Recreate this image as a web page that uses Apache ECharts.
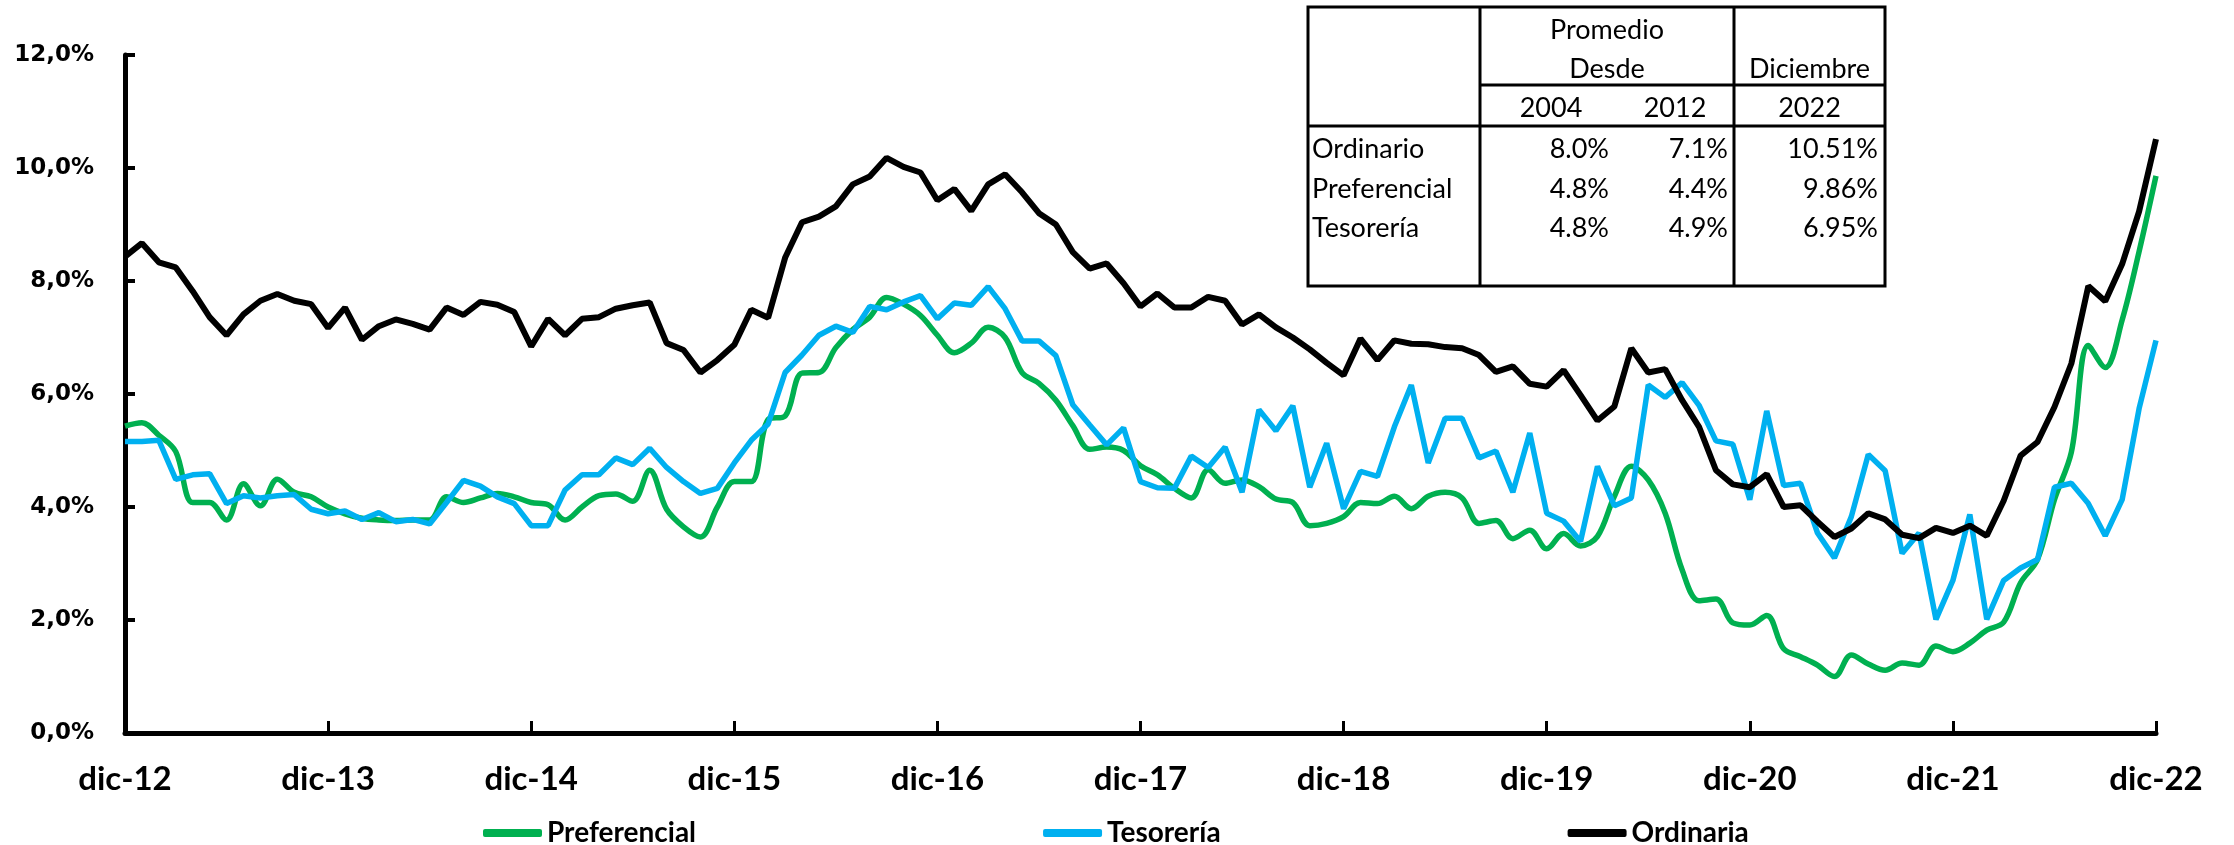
<!DOCTYPE html>
<html>
<head>
<meta charset="utf-8">
<script src="https://cdn.jsdelivr.net/npm/echarts@6/dist/echarts.min.js"></script>
<style>
html,body{margin:0;padding:0;background:#fff;}
#chart{width:2234px;height:845px;}
</style>
</head>
<body>
<div id="chart"></div>
<script>
var categories = [
 'dic-12',
 'ene-13','feb-13','mar-13','abr-13','may-13','jun-13','jul-13','ago-13','sep-13','oct-13','nov-13','dic-13',
 'ene-14','feb-14','mar-14','abr-14','may-14','jun-14','jul-14','ago-14','sep-14','oct-14','nov-14','dic-14',
 'ene-15','feb-15','mar-15','abr-15','may-15','jun-15','jul-15','ago-15','sep-15','oct-15','nov-15','dic-15',
 'ene-16','feb-16','mar-16','abr-16','may-16','jun-16','jul-16','ago-16','sep-16','oct-16','nov-16','dic-16',
 'ene-17','feb-17','mar-17','abr-17','may-17','jun-17','jul-17','ago-17','sep-17','oct-17','nov-17','dic-17',
 'ene-18','feb-18','mar-18','abr-18','may-18','jun-18','jul-18','ago-18','sep-18','oct-18','nov-18','dic-18',
 'ene-19','feb-19','mar-19','abr-19','may-19','jun-19','jul-19','ago-19','sep-19','oct-19','nov-19','dic-19',
 'ene-20','feb-20','mar-20','abr-20','may-20','jun-20','jul-20','ago-20','sep-20','oct-20','nov-20','dic-20',
 'ene-21','feb-21','mar-21','abr-21','may-21','jun-21','jul-21','ago-21','sep-21','oct-21','nov-21','dic-21',
 'ene-22','feb-22','mar-22','abr-22','may-22','jun-22','jul-22','ago-22','sep-22','oct-22','nov-22','dic-22'
];

var preferencial = [
 5.43,
 5.49,5.27,4.98,4.08,4.08,3.77,4.41,4.02,4.49,4.26,4.18,4.00,
 3.88,3.80,3.77,3.76,3.77,3.77,4.18,4.08,4.16,4.24,4.18,4.08,
 4.04,3.77,4.00,4.20,4.23,4.10,4.65,3.96,3.65,3.47,4.00,4.45,
 4.45,5.55,5.61,6.37,6.38,6.82,7.14,7.36,7.71,7.59,7.39,7.04,
 6.73,6.90,7.18,7.00,6.38,6.19,5.89,5.44,5.02,5.06,5.00,4.73,
 4.57,4.33,4.16,4.66,4.42,4.48,4.36,4.14,4.08,3.67,3.71,3.83,
 4.08,4.06,4.19,3.97,4.19,4.26,4.16,3.71,3.76,3.44,3.59,3.26,
 3.53,3.31,3.48,4.19,4.72,4.48,3.89,2.89,2.34,2.37,1.95,1.91,
 2.08,1.49,1.35,1.20,1.00,1.38,1.22,1.11,1.24,1.20,1.54,1.44,
 1.59,1.82,1.96,2.66,3.07,4.13,4.97,6.86,6.47,7.31,8.52,9.86
];

var tesoreria = [
 5.16,
 5.16,5.18,4.49,4.57,4.59,4.06,4.20,4.16,4.20,4.22,3.96,3.88,
 3.93,3.78,3.90,3.74,3.78,3.70,4.08,4.47,4.37,4.18,4.06,3.67,
 3.67,4.30,4.57,4.57,4.87,4.75,5.04,4.70,4.45,4.24,4.33,4.78,
 5.18,5.47,6.38,6.69,7.04,7.20,7.09,7.55,7.49,7.63,7.74,7.33,
 7.61,7.57,7.90,7.51,6.94,6.94,6.68,5.81,5.45,5.10,5.40,4.45,
 4.34,4.33,4.90,4.70,5.06,4.26,5.72,5.35,5.79,4.35,5.13,3.97,
 4.63,4.54,5.42,6.16,4.78,5.57,5.57,4.87,4.99,4.26,5.31,3.89,
 3.75,3.39,4.72,4.02,4.16,6.16,5.94,6.20,5.80,5.17,5.11,4.13,
 5.70,4.38,4.42,3.54,3.10,3.83,4.93,4.64,3.18,3.54,2.01,2.70,
 3.87,2.01,2.70,2.92,3.07,4.35,4.42,4.06,3.49,4.13,5.74,6.95
];

var ordinaria = [
 8.43,
 8.67,8.33,8.24,7.82,7.36,7.04,7.41,7.65,7.77,7.65,7.59,7.17,
 7.53,6.96,7.20,7.32,7.24,7.14,7.53,7.40,7.63,7.58,7.45,6.84,
 7.33,7.04,7.33,7.36,7.51,7.57,7.62,6.90,6.78,6.38,6.60,6.87,
 7.49,7.35,8.41,9.04,9.14,9.32,9.71,9.85,10.18,10.02,9.92,9.43,
 9.63,9.24,9.71,9.89,9.57,9.20,9.00,8.51,8.22,8.31,7.96,7.55,
 7.78,7.53,7.53,7.72,7.65,7.23,7.41,7.18,7.00,6.79,6.55,6.33,
 6.98,6.60,6.95,6.89,6.88,6.83,6.81,6.69,6.39,6.49,6.18,6.13,
 6.42,5.98,5.53,5.78,6.81,6.38,6.44,5.89,5.42,4.65,4.40,4.35,
 4.58,4.00,4.03,3.74,3.47,3.62,3.89,3.78,3.51,3.45,3.63,3.54,
 3.67,3.49,4.11,4.91,5.15,5.77,6.54,7.91,7.64,8.30,9.23,10.51
];

var seriesNames = ['Preferencial', 'Tesorería', 'Ordinaria'];
var seriesColors = ['#00B050', '#00B0F0', '#000000'];

// Summary table
var tableHeaderTop = ['Promedio', 'Desde', 'Diciembre'];
var tableYears = ['2004', '2012', '2022'];
var tableRows = ['Ordinario', 'Preferencial', 'Tesorería'];
var tableAvg2004 = ['8.0%', '4.8%', '4.8%'];
var tableAvg2012 = ['7.1%', '4.4%', '4.9%'];
var tableDec2022 = ['10.51%', '9.86%', '6.95%'];

var chart = echarts.init(document.getElementById('chart'), null, {renderer: 'canvas'});

var TF = '27px Lato';
function txt(x, y, s, align) {
  return {type: 'text', x: x, y: y, z: 100,
    style: {text: s, font: TF, fill: '#000', align: align, verticalAlign: 'middle'}};
}
function ln(x1, y1, x2, y2) {
  return {type: 'line', z: 100, shape: {x1: x1, y1: y1, x2: x2, y2: y2},
    style: {stroke: '#000', lineWidth: 3}};
}
var tL = 1308, tR = 1885, tT = 7, tB = 286, c1 = 1480, c2 = 1734, h1 = 85, h2 = 126;
var graphics = [
  {type: 'rect', z: 99, shape: {x: tL, y: tT, width: tR - tL, height: tB - tT},
   style: {fill: '#fff', stroke: '#000', lineWidth: 3}},
  ln(c1, tT, c1, tB), ln(c2, tT, c2, tB), ln(c1, h1, tR, h1), ln(tL, h2, tR, h2),
  txt((c1 + c2) / 2, 30, tableHeaderTop[0], 'center'),
  txt((c1 + c2) / 2, 69, tableHeaderTop[1], 'center'),
  txt((c2 + tR) / 2, 69, tableHeaderTop[2], 'center'),
  txt(1551, 108, tableYears[0], 'center'),
  txt(1675, 108, tableYears[1], 'center'),
  txt((c2 + tR) / 2, 108, tableYears[2], 'center')
];
var rowY = [149, 189, 228];
for (var i = 0; i < tableRows.length; i++) {
  graphics.push(txt(1312, rowY[i], tableRows[i], 'left'));
  graphics.push(txt(1609, rowY[i], tableAvg2004[i], 'right'));
  graphics.push(txt(1728, rowY[i], tableAvg2012[i], 'right'));
  graphics.push(txt(1878, rowY[i], tableDec2022[i], 'right'));
}

function everyYear(idx) { return idx % 12 === 0; }

var option = {
  animation: false,
  backgroundColor: '#fff',
  grid: {left: 125, right: 78, top: 55, bottom: 112, containLabel: false},
  legend: {
    data: seriesNames,
    left: 478, top: 814,
    icon: 'roundRect',
    itemWidth: 59, itemHeight: 8, itemGap: 347,
    textStyle: {fontFamily: 'Lato', fontWeight: 'bold', fontSize: 28, color: '#000'}
  },
  xAxis: {
    type: 'category',
    data: categories,
    boundaryGap: false,
    axisLine: {show: true, lineStyle: {color: '#000', width: 5}},
    axisTick: {show: true, inside: true, length: 12, interval: everyYear, lineStyle: {color: '#000', width: 3}},
    axisLabel: {interval: everyYear, margin: 30, fontFamily: 'Lato', fontWeight: 'bold', fontSize: 33, color: '#000'},
    splitLine: {show: false}
  },
  yAxis: {
    type: 'value',
    min: 0, max: 12, interval: 2,
    axisLine: {show: true, lineStyle: {color: '#000', width: 5}},
    axisTick: {show: true, inside: true, length: 10, lineStyle: {color: '#000', width: 4}},
    axisLabel: {
      margin: 31, fontFamily: 'DejaVu Sans', fontWeight: 'bold', fontSize: 23, color: '#000',
      formatter: function (v) { return v.toFixed(1).replace('.', ',') + '%'; }
    },
    splitLine: {show: false}
  },
  series: [
    {name: seriesNames[0], type: 'line', data: preferencial, smooth: 0.35, symbol: 'none',
     lineStyle: {color: seriesColors[0], width: 5.5}, itemStyle: {color: seriesColors[0]}},
    {name: seriesNames[1], type: 'line', data: tesoreria, symbol: 'none',
     lineStyle: {color: seriesColors[1], width: 5.5}, itemStyle: {color: seriesColors[1]}},
    {name: seriesNames[2], type: 'line', data: ordinaria, symbol: 'none',
     lineStyle: {color: seriesColors[2], width: 6}, itemStyle: {color: seriesColors[2]}}
  ],
  graphic: graphics
};
chart.setOption(option);
</script>
</body>
</html>
